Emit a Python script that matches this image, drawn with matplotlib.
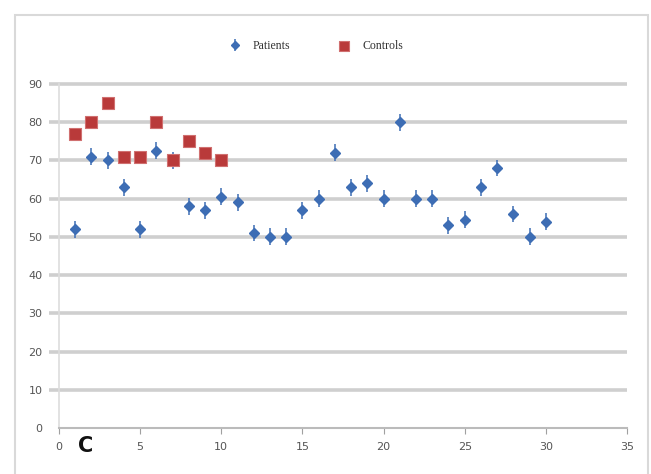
import matplotlib
matplotlib.use("Agg")
import matplotlib.pyplot as plt
from matplotlib.patches import Rectangle

patients_x = list(range(1, 31))
patients_y = [52, 71, 70, 63, 52, 72.5, 70, 58, 57, 60.5,
              59, 51, 50, 50, 57, 60, 72, 63, 64, 60,
              80, 60, 60, 53, 54.5, 63, 68, 56, 50, 54]
patients_err = [2.2] * 30
controls_x = list(range(1, 11))
controls_y = [77, 80, 85, 71, 71, 80, 70, 75, 72, 70]
x_ticks = [0, 5, 10, 15, 20, 25, 30, 35]
y_ticks = [0, 10, 20, 30, 40, 50, 60, 70, 80, 90]

fig = plt.figure(figsize=(6.51, 4.74), dpi=100)
fig.patches.append(Rectangle((15 / 651, -0.05), 633 / 651, 1.05 - 15 / 474,
                             transform=fig.transFigure, fill=False,
                             edgecolor="#d9d9d9", lw=1.5))
ax = fig.add_axes([59 / 651, 1 - 428 / 474, 568 / 651, 344 / 474])

ax.hlines(y_ticks[1:], -0.6, 35, colors="#cfcfcf", lw=2.6, zorder=0, clip_on=False)

ax.errorbar(patients_x, patients_y, yerr=patients_err, fmt="D", color="#3d6db4",
            ms=5.5, elinewidth=1.1, capsize=0, zorder=3, label="Patients")
ax.scatter(controls_x, controls_y, marker="s", s=80, color="#b93a3a",
           edgecolors="#d07070", linewidths=0.8, zorder=4, label="Controls")

ax.set_xlim(0, 35)
ax.set_ylim(0, 90)
ax.set_xticks(x_ticks)
ax.set_yticks(y_ticks)
ax.tick_params(axis="x", length=4, color="#a0a0a0", labelsize=8, labelcolor="#555555", pad=6)
ax.tick_params(axis="y", length=0, labelsize=8, labelcolor="#555555", pad=12)
for s in ["top", "right"]:
    ax.spines[s].set_visible(False)
ax.spines["left"].set_color("#dddddd")
ax.spines["left"].set_linewidth(1.2)
ax.spines["bottom"].set_color("#bbbbbb")
ax.spines["bottom"].set_linewidth(1.5)

handles, labels = ax.get_legend_handles_labels()
order = [labels.index("Patients"), labels.index("Controls")]
leg = ax.legend([handles[i] for i in order], [labels[i] for i in order],
                loc="center", bbox_to_anchor=(0.447, 1.11), ncol=2, frameon=False,
                prop={"family": "Liberation Serif", "size": 8.5}, handletextpad=0.5,
                columnspacing=3.6, markerscale=0.8)
for t in leg.get_texts():
    t.set_color("#333333")

fig.text(0.132, 0.06, "C", fontsize=15, fontweight="bold", color="#111111",
         ha="center", va="center")

fig.savefig("out.png", dpi=100)
